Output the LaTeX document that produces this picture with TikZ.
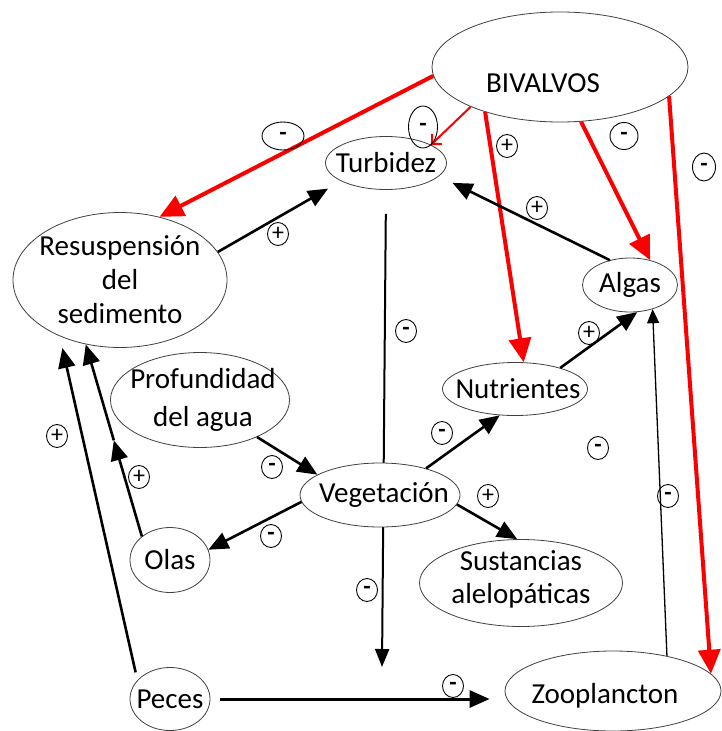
\documentclass[tikz,border=0pt]{standalone}
\usepackage{fontspec}
\setmainfont{Carlito}
\usetikzlibrary{shapes.geometric,arrows.meta,backgrounds}

\definecolor{rojo}{RGB}{250,0,0}
\tikzset{
  nodo/.style = {ellipse, draw = black!75, line width = 0.8pt, fill = white, inner sep = 0pt},
  texto/.style = {font = \fontsize{29}{34}\selectfont, align = center},
  signo/.style = {ellipse, draw = black, line width = 0.9pt, inner sep = 0pt, minimum width = 21pt, minimum height = 23pt, font = \fontsize{24}{24}\selectfont},
  roja/.style = {draw = rojo, line width = 4pt, -{Triangle[length = 24pt, width = 22pt]}},
  negra/.style = {draw = black, line width = 2.6pt, -{Triangle[length = 20pt, width = 17pt]}},
}

\begin{document}
\begin{tikzpicture}[x = 1pt, y = -1pt]
\useasboundingbox (0,0) rectangle (721,731);

\node[nodo, minimum width = 256pt, minimum height = 110pt, label = {[texto, xshift = -17pt, yshift = -16pt]center:BIVALVOS}] (biv) at (560,67) {};
\node[nodo, minimum width = 121pt, minimum height = 53pt, label = {[texto]center:Turbidez}] (turb) at (386,163) {};
\node[nodo, minimum width = 214pt, minimum height = 135pt, label = {[texto]center:Resuspensión\\del\\sedimento}] (resusp) at (120,280) {};
\node[nodo, minimum width = 95pt, minimum height = 54pt, label = {[texto]center:Algas}] (algas) at (630,285) {};
\node[nodo, minimum width = 145pt, minimum height = 53pt, label = {[texto, xshift = 3pt]center:Nutrientes}] (nutr) at (515,389) {};
\node[nodo, minimum width = 179pt, minimum height = 95pt, label = {[texto, font = \fontsize{29}{38}\selectfont, xshift = 3pt]center:Profundidad\\del agua}] (prof) at (200,400) {};
\node[nodo, minimum width = 160pt, minimum height = 64pt, label = {[texto, xshift = 4pt]center:Vegetación}] (veg) at (380,495) {};
\node[nodo, minimum width = 80pt, minimum height = 65pt, label = {[texto]center:Olas}] (olas) at (170,560) {};
\node[nodo, minimum width = 203pt, minimum height = 87pt, label = {[texto, font = \fontsize{29}{33}\selectfont, yshift = 4pt]center:Sustancias\\alelopáticas}] (sust) at (521,583) {};
\node[nodo, minimum width = 80pt, minimum height = 63pt, label = {[texto]center:Peces}] (peces) at (170,699) {};
\node[nodo, minimum width = 216pt, minimum height = 80pt, label = {[texto, xshift = -8pt, yshift = -5pt]center:Zooplancton}] (zoo) at (613,691) {};

\coordinate (efecto) at (382,667);
\begin{pgfonlayer}{background}
\draw [line width = 2pt, -{Triangle[length = 18pt, width = 14pt]}, shorten <= 24pt] (turb.south) -- (efecto);
\end{pgfonlayer}

\draw [roja] (biv.184) -- (resusp.58);
\draw [draw = rojo, line width = 2pt, -{Straight Barb[length = 7pt, width = 14pt]}] (biv.204) -- (turb.22);
\draw [roja] (biv.211) -- (nutr.72);
\draw [roja] (biv.291) -- (algas.51);
\draw [roja] (biv.345) -- (zoo.10);

\draw [negra, shorten >= 15pt] (resusp.16) -- (turb.202);
\draw [negra, shorten >= 15pt] (algas.129) -- (turb.346);
\draw [negra] (nutr.25) -- (algas.285);
\draw [line width = 1.3pt, -{Triangle[length = 14pt, width = 12pt]}] (zoo.33) -- (algas.313);
\draw [negra] (veg.30) -- (nutr.240);
\draw [negra] (veg.353) -- (sust.95);
\draw [negra] (prof.327) -- (veg.162);
\draw [negra] (veg.185) -- (olas.15);
\path (olas.140) -- coordinate (olasmed) (resusp.242);
\draw [negra] (olas.140) -- (olasmed);
\draw [negra] (olasmed) -- (resusp.242);
\draw [negra, shorten <= 8pt, shorten >= 12pt] (peces.150) -- (resusp.223);
\draw [negra, line width = 3pt, shorten <= 10pt, shorten >= 15pt] (peces.east) -- (peces.east -| zoo.west);

\node[signo, minimum width = 42pt, minimum height = 28pt] (sres) at (283,136) {\textbf{-}};
\node[signo, minimum width = 29pt, minimum height = 42pt] (stur) at (423,127) {\textbf{-}};
\node[signo, minimum width = 28pt, minimum height = 27pt] (salg) at (624,136) {\textbf{-}};
\node[signo, minimum width = 23pt, minimum height = 28pt] (szoo) at (704,167) {\textbf{-}};
\foreach \x/\y/\s [count = \i] in {507/146/+, 278/234/+, 537/208/+, 406/331/\textbf{-}, 589/333/+, 442/433/\textbf{-}, 598/448/\textbf{-}, 668/496/\textbf{-}, 488/496/+, 272/467/\textbf{-}, 271/536/\textbf{-}, 139/477/+, 57/436/+, 367/590/\textbf{-}, 453/686/\textbf{-}}
  \node[signo] (s\i) at (\x,\y) {\s};
\end{tikzpicture}
\end{document}
